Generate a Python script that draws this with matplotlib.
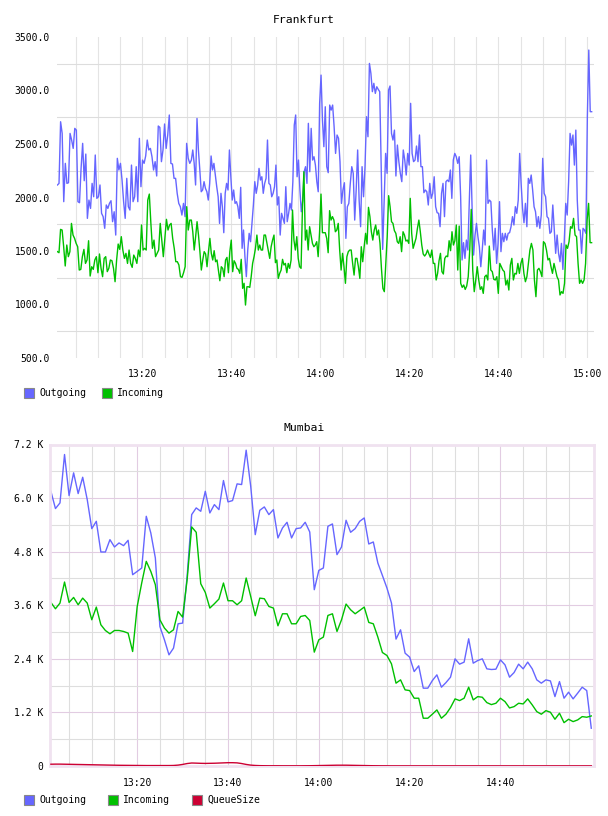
import numpy as np
import matplotlib
matplotlib.use("Agg")
import matplotlib.pyplot as plt
from matplotlib.patches import Rectangle

# ---- Frankfurt: four ~30 minute blocks ----
fra_out_1 = [2117, 2132, 2708, 2599, 1961, 2319, 2132, 2138, 2599, 2537, 2459, 2646, 2630, 1961, 1951,
             2272, 2506, 2157, 2406, 1805, 1976, 1898, 2132, 2007, 2397, 1992, 2007, 2117, 1852, 1821,
             1712, 1930, 1898, 1945, 1970, 1774, 1867, 1649, 2366, 2257, 2319, 2163, 1961, 1805, 2179,
             1914, 1883, 2303, 1961, 2007, 2288, 1961, 2553, 2101, 2350, 2319, 2388, 2537, 2444, 2459,
             2381, 2257, 2335, 2201, 2668, 2655, 2335, 2444, 2687, 2459, 2584, 2771, 2319, 2313, 2179,
             2179, 2039, 1945, 1914, 1836, 1945, 1821, 2506, 2366, 2319]
fra_out_2 = [2350, 2444, 2319, 2117, 2739, 2444, 2257, 2054, 2070, 2148, 2085, 2054, 1976, 2132, 2388,
             2257, 2319, 2210, 2101, 2007, 1758, 2039, 1914, 1671, 2039, 2132, 2070, 2444, 2194, 1976,
             2070, 1945, 1961, 1914, 1805, 2095, 1525, 1696, 1447, 1260, 1509, 1665, 1587, 1758, 1930,
             2148, 2039, 2117, 2272, 2163, 2194, 2039, 2132, 2179, 2537, 2132, 2117, 2007, 2039, 2101,
             2303, 1930, 2007, 1649, 1852, 1805, 1758, 2101, 1774, 1852, 1945, 1883, 2148, 2677, 2771,
             2194, 2350, 2070, 1867, 1976, 2241, 2288, 2132, 2693, 2241, 2646, 2350, 2381, 2303, 2148,
             2054, 2880, 3144, 2724, 2475]
fra_out_3 = [2848, 2288, 2232, 2864, 2817, 2864, 2662, 2412, 2584, 2553, 2335, 1945, 2070, 2138, 1618,
             1914, 1945, 2132, 2288, 2226, 1789, 2070, 2444, 1976, 1727, 2288, 2007, 2288, 2755, 2568,
             3253, 3160, 2989, 3067, 2973, 3035, 3010, 2989, 2288, 1515, 1976, 2412, 2226, 3004, 3042,
             2599, 2537, 2630, 2201, 2490, 2335, 2226, 2148, 2444, 2350, 2210, 2412, 2303, 2880, 2412,
             2335, 2350, 2481, 2335, 2584, 2288, 2288, 2045, 2070, 2054, 1930, 2132, 1992, 2039, 2194,
             1914, 1858, 1852, 1727, 2039, 2132, 1821, 2148, 2163, 2148, 2257, 1992, 2350, 2412, 2381,
             2319]
fra_out_4 = [2381, 2007, 1416, 1578, 1431, 1602, 1509, 1961, 2397, 1883, 1462, 1649, 1758, 1634, 1540,
             1353, 1509, 1696, 1556, 2350, 1945, 1976, 1961, 1696, 1509, 1712, 1384, 1571, 1961, 1494,
             1665, 1587, 1665, 1602, 1665, 1671, 1727, 1821, 1743, 1914, 1852, 1976, 2412, 2132, 1898,
             1764, 1945, 1727, 2179, 2132, 2210, 2070, 1914, 1867, 1727, 1821, 1712, 1836, 2366, 2039,
             2007, 1821, 1805, 1665, 1680, 1930, 1696, 1478, 1649, 1478, 1400, 1571, 1328, 1602, 1945,
             1836, 2148, 2599, 2490, 2584, 2303, 2630, 1976, 1696, 1696, 1478, 1712, 1696, 1665, 2755,
             3378, 2802, 2802]

fra_in_1 = [1494, 1484, 1702, 1696, 1540, 1360, 1556, 1447, 1494, 1758, 1649, 1618, 1571, 1540, 1322,
            1328, 1447, 1515, 1384, 1416, 1596, 1266, 1353, 1328, 1416, 1447, 1297, 1472, 1338, 1260,
            1431, 1447, 1307, 1338, 1416, 1409, 1338, 1213, 1416, 1565, 1515, 1634, 1509, 1431, 1478,
            1384, 1509, 1384, 1347, 1462, 1431, 1384, 1509, 1447, 1743, 1509, 1525, 1509, 1976, 2032,
            1758, 1525, 1602, 1447, 1478, 1509, 1758, 1602, 1447, 1618, 1796, 1696, 1743, 1758, 1618,
            1525, 1400, 1400, 1369, 1260, 1254, 1297, 1353, 1914, 1696, 1789]
fra_in_2 = [1789, 1680, 1509, 1634, 1774, 1649, 1494, 1322, 1416, 1494, 1472, 1353, 1494, 1618, 1478,
            1416, 1503, 1400, 1416, 1322, 1222, 1353, 1338, 1260, 1416, 1440, 1297, 1494, 1602, 1307,
            1409, 1384, 1338, 1328, 1291, 1422, 1151, 1198, 995, 1166, 1166, 1160, 1260, 1384, 1447,
            1525, 1649, 1509, 1556, 1509, 1509, 1649, 1649, 1578, 1509, 1431, 1540, 1602, 1649, 1391,
            1416, 1244, 1291, 1322, 1422, 1369, 1384, 1297, 1384, 1338, 1416, 1883, 1602, 1509, 1634,
            1431, 1353, 1338, 1914, 2241, 1602, 1696, 1509, 1727, 1649, 1571, 1540, 1556, 1587, 1447,
            1680, 2032, 1671, 1671]
fra_in_3 = [1671, 1618, 1484, 1877, 1789, 1821, 1789, 1680, 1696, 1758, 1509, 1322, 1478, 1353, 1198,
            1447, 1494, 1509, 1509, 1384, 1275, 1431, 1431, 1353, 1244, 1540, 1400, 1540, 1665, 1565,
            1908, 1821, 1680, 1602, 1696, 1743, 1649, 1696, 1571, 1338, 1151, 1120, 1384, 1634, 2017,
            1914, 1774, 1758, 1690, 1665, 1587, 1571, 1634, 1494, 1680, 1649, 1593, 1602, 1571, 1992,
            1665, 1525, 1571, 1618, 1712, 1789, 1680, 1556, 1472, 1453, 1472, 1509, 1472, 1440, 1509,
            1384, 1384, 1229, 1291, 1409, 1478, 1307, 1285, 1431, 1453, 1447, 1596, 1503, 1680, 1556,
            1596, 1743, 1322]
fra_in_4 = [1733, 1198, 1160, 1182, 1141, 1173, 1260, 1509, 1889, 1322, 1120, 1229, 1353, 1229, 1141,
            1166, 1104, 1260, 1275, 1229, 1546, 1322, 1307, 1235, 1229, 1260, 1104, 1384, 1353, 1322,
            1307, 1182, 1229, 1135, 1369, 1431, 1229, 1291, 1285, 1384, 1291, 1384, 1431, 1291, 1213,
            1260, 1384, 1509, 1571, 1509, 1229, 1073, 1322, 1338, 1307, 1260, 1587, 1571, 1509, 1416,
            1431, 1353, 1291, 1384, 1322, 1260, 1229, 1089, 1120, 1104, 1198, 1556, 1525, 1587, 1727,
            1712, 1805, 1649, 1634, 1384, 1198, 1229, 1198, 1229, 1384, 1789, 1945, 1578, 1578]

fra_block_start = [0.9, 31.0, 61.1, 91.2]   # minutes after 13:00
fra_block_len = 30.1

# ---- Mumbai: one sample per minute, 13:01 .. 15:00 ----
mum_minutes = np.arange(1, 121)
mum_out = [6152, 5765, 5892, 6976, 6056, 6565, 6101, 6467, 5966, 5316, 5480, 4793, 4793, 5069, 4905,
           4995, 4935, 5054, 4284, 4358, 4434, 5592, 5219, 4658, 3124, 2826, 2490, 2640, 3185, 3200,
           4250, 5630, 5780, 5704, 6152, 5667, 5854, 5742, 6393, 5915, 5944, 6318, 6303, 7073, 6265,
           5181, 5727, 5802, 5630, 5742, 5107, 5331, 5458, 5107, 5316, 5331, 5458, 5241, 3948, 4381,
           4434, 5368, 5421, 4733, 4905, 5503, 5234, 5316, 5480, 5555, 4972, 5017, 4546, 4268, 3986,
           3649, 2842, 3050, 2527, 2438, 2115, 2243, 1743, 1743, 1913, 2041, 1765, 1868, 1989, 2400,
           2281, 2326, 2849, 2303, 2362, 2400, 2176, 2161, 2168, 2377, 2265, 1989, 2093, 2281, 2176,
           2326, 2176, 1929, 1855, 1929, 1906, 1554, 1891, 1518, 1653, 1503, 1631, 1765, 1689, 846]
mum_in = [3663, 3521, 3649, 4120, 3663, 3775, 3611, 3760, 3649, 3275, 3559, 3163, 3035, 2961, 3035,
          3035, 3013, 2976, 2564, 3570, 4100, 4583, 4358, 4060, 3275, 3089, 2976, 3050, 3461, 3335,
          4172, 5354, 5234, 4082, 3887, 3537, 3634, 3739, 4098, 3701, 3701, 3611, 3701, 4210, 3797,
          3365, 3760, 3746, 3573, 3537, 3140, 3409, 3409, 3185, 3185, 3349, 3371, 3259, 2550, 2826,
          2887, 3371, 3409, 3013, 3275, 3627, 3499, 3409, 3483, 3559, 3215, 3185, 2887, 2542, 2475,
          2288, 1855, 1929, 1705, 1689, 1518, 1518, 1070, 1070, 1160, 1256, 1070, 1160, 1308, 1503,
          1465, 1518, 1765, 1480, 1554, 1540, 1420, 1375, 1405, 1518, 1442, 1300, 1330, 1405, 1390,
          1503, 1368, 1218, 1160, 1240, 1204, 1047, 1182, 971, 1047, 994, 1032, 1106, 1092, 1121]
mum_queue = [40, 42, 42, 40, 38, 36, 34, 32, 30, 28, 26, 24, 22, 20, 18,
             16, 15, 14, 13, 12, 11, 10, 10, 10, 10, 10, 10, 12, 20, 35,
             55, 67, 64, 60, 58, 60, 62, 66, 70, 74, 74, 70, 55, 35, 20,
             12, 8, 6, 5, 5, 5, 4, 4, 4, 4, 4, 5, 6, 8, 10,
             12, 14, 16, 18, 18, 18, 16, 14, 12, 10, 8, 6, 5, 4, 4,
             3, 3, 3, 3, 3, 3, 3, 3, 3, 3, 3, 3, 3, 3, 3,
             3, 3, 3, 3, 3, 3, 3, 3, 3, 3, 3, 3, 3, 3, 3,
             3, 3, 3, 3, 3, 3, 3, 3, 3, 3, 3, 3, 3, 3, 3]

C_OUT = "#6666ff"
C_IN = "#00c000"
C_QUEUE = "#cc0033"
MONO = "DejaVu Sans Mono"
W, H = 608, 816


def clock(m):
    m = int(round(m))
    return f"{13 + m // 60}:{m % 60:02d}"


def block_series(blocks):
    xs, ys = [], []
    for start, vals in zip(fra_block_start, blocks):
        xs.append(np.linspace(start, start + fra_block_len, len(vals), endpoint=False))
        ys.append(np.asarray(vals, dtype=float))
    return np.concatenate(xs), np.concatenate(ys)


def legend(fig, y_px, items):
    for x_px, label, color in items:
        fig.patches.append(Rectangle((x_px / W, 1 - (y_px + 5) / H), 10 / W, 10 / H,
                                     transform=fig.transFigure, facecolor=color,
                                     edgecolor="#888888", linewidth=0.8))
        fig.text((x_px + 15) / W, 1 - y_px / H, label, fontsize=7, family=MONO,
                 va="center", ha="left")


fig = plt.figure(figsize=(6.08, 8.16), dpi=100)

# ---------------- Frankfurt ----------------
ax1 = fig.add_axes([57 / W, 1 - 358 / H, 537 / W, 321 / H])
x_out, y_out = block_series([fra_out_1, fra_out_2, fra_out_3, fra_out_4])
x_in, y_in = block_series([fra_in_1, fra_in_2, fra_in_3, fra_in_4])
ax1.plot(x_out, y_out, color=C_OUT, lw=1.0)
ax1.plot(x_in, y_in, color=C_IN, lw=1.0)
ax1.set_xlim(0.8, 121.5)
ax1.set_ylim(500, 3500)
ax1.set_yticks(np.arange(500, 3501, 500))
ax1.set_yticklabels([f"{v:.1f}" for v in np.arange(500, 3501, 500)])
ax1.set_yticks(np.arange(750, 3300, 500), minor=True)
ax1.set_xticks(np.arange(20, 121, 20))
ax1.set_xticklabels([clock(m) for m in np.arange(20, 121, 20)])
ax1.set_xticks(np.arange(5, 121, 5), minor=True)
ax1.grid(which="minor", axis="y", color="#dddddd", lw=0.8)
ax1.grid(which="both", axis="x", color="#e4e4e4", lw=0.8)
ax1.set_axisbelow(True)
for s in ax1.spines.values():
    s.set_visible(False)
ax1.tick_params(which="both", length=0)
ax1.tick_params(axis="y", pad=5, labelsize=7)
ax1.tick_params(axis="x", pad=8, labelsize=7)
for lab in ax1.get_xticklabels() + ax1.get_yticklabels():
    lab.set_family(MONO)
fig.text(0.5, 1 - 20 / H, "Frankfurt", ha="center", va="center", fontsize=8.2, family=MONO)
legend(fig, 392.7, [(24, "Outgoing", C_OUT), (102, "Incoming", C_IN)])

# ---------------- Mumbai ----------------
ax2 = fig.add_axes([50 / W, 1 - 766 / H, 544 / W, 321.5 / H])
ax2.plot(mum_minutes, mum_out, color=C_OUT, lw=1.0)
ax2.plot(mum_minutes, mum_in, color=C_IN, lw=1.0)
ax2.plot(mum_minutes, mum_queue, color=C_QUEUE, lw=1.0, zorder=3)
ax2.set_xlim(0.8, 120.6)
ax2.set_ylim(0, 7200)
ax2.set_yticks(np.arange(0, 7201, 1200))
ax2.set_yticklabels(["0"] + [f"{v / 1000:.1f} K" for v in np.arange(1200, 7201, 1200)])
ax2.set_yticks(np.arange(600, 7200, 1200), minor=True)
ax2.set_xticks(np.arange(20, 101, 20))
ax2.set_xticklabels([clock(m) for m in np.arange(20, 101, 20)])
ax2.set_xticks(np.arange(5, 116, 5), minor=True)
ax2.grid(which="major", color="#e2cce2", lw=0.8)
ax2.grid(which="minor", color="#dedede", lw=0.8)
ax2.set_axisbelow(True)
for s in ax2.spines.values():
    s.set_color("#f0e2f0")
    s.set_linewidth(2)
ax2.tick_params(which="both", length=0)
ax2.tick_params(axis="y", pad=5, labelsize=7)
ax2.tick_params(axis="x", pad=9, labelsize=7)
for lab in ax2.get_xticklabels() + ax2.get_yticklabels():
    lab.set_family(MONO)
fig.text(0.5, 1 - 428 / H, "Mumbai", ha="center", va="center", fontsize=8.2, family=MONO)
legend(fig, 800, [(24, "Outgoing", C_OUT), (108, "Incoming", C_IN), (192, "QueueSize", C_QUEUE)])

fig.savefig("out.png", dpi=100)
